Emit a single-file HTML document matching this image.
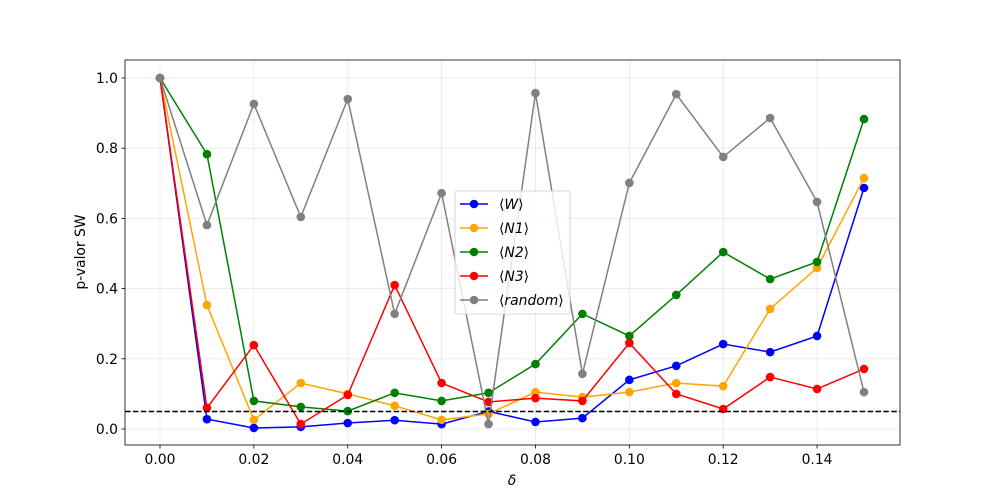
<!DOCTYPE html>
<html><head><meta charset="utf-8"><style>
html,body{margin:0;padding:0;background:#fff;overflow:hidden;}
svg{display:block;}
svg text{font-family:"DejaVu Sans","Liberation Sans",sans-serif;fill:#000;}
</style></head><body>
<svg id="chart" width="1000" height="500" xmlns="http://www.w3.org/2000/svg">
<rect x="0" y="0" width="1000" height="500" fill="#fff"/>
<g id="grid"></g><g id="series"></g><g id="axes"></g><g id="legend"></g>
</svg>
<script>
const deltas=[0,0.01,0.02,0.03,0.04,0.05,0.06,0.07,0.08,0.09,0.10,0.11,0.12,0.13,0.14,0.15];
const seriesW=[1.0,0.028,0.003,0.006,0.017,0.025,0.014,0.05,0.02,0.031,0.14,0.18,0.242,0.219,0.265,0.687];
const seriesN1=[1.0,0.353,0.026,0.131,0.1,0.066,0.026,0.043,0.105,0.091,0.105,0.131,0.122,0.342,0.459,0.715];
const seriesN2=[1.0,0.783,0.08,0.063,0.051,0.103,0.08,0.103,0.185,0.328,0.265,0.382,0.504,0.427,0.476,0.883];
const seriesN3=[1.0,0.06,0.239,0.014,0.097,0.41,0.131,0.077,0.088,0.08,0.245,0.1,0.057,0.148,0.114,0.171];
const seriesRandom=[1.0,0.581,0.926,0.604,0.94,0.328,0.672,0.014,0.957,0.157,0.701,0.954,0.775,0.886,0.647,0.105];
const xTicks=[0,0.02,0.04,0.06,0.08,0.10,0.12,0.14];
const xTickLabels=["0.00","0.02","0.04","0.06","0.08","0.10","0.12","0.14"];
const yTicks=[0,0.2,0.4,0.6,0.8,1.0];
const yTickLabels=["0.0","0.2","0.4","0.6","0.8","1.0"];
const threshold=0.05;
const seriesLabels=["W","N1","N2","N3","random"];
const seriesColors=["#0000ff","#ffa500","#008000","#ff0000","#808080"];
const allSeries=[seriesW,seriesN1,seriesN2,seriesN3,seriesRandom];

const L=125,R=900,T=60,B=445,FS=13.9;
const sx=v=>160+(v-0)/0.15*(864-160);
const sy=v=>429-v*351;
const NS="http://www.w3.org/2000/svg";
function mk(tag,parent,attrs){const e=document.createElementNS(NS,tag);for(const k in attrs)e.setAttribute(k,attrs[k]);parent.appendChild(e);return e;}
const grid=document.getElementById('grid'),ser=document.getElementById('series'),ax=document.getElementById('axes'),leg=document.getElementById('legend');
xTicks.forEach((t,i)=>{const x=sx(t);
 let g=mk('line',grid,{x1:x,x2:x,y1:T,y2:B,stroke:'#b0b0b0','stroke-width':0.8,'stroke-opacity':0.3});
 
 let tk=mk('line',ax,{x1:x,x2:x,y1:B,y2:B+3.5,stroke:'#000','stroke-width':0.8});
 
 let tx=mk('text',ax,{x:x,y:B+19,'text-anchor':'middle','font-size':FS});tx.textContent=xTickLabels[i];
 });
yTicks.forEach((t,i)=>{const y=sy(t);
 let g=mk('line',grid,{x1:L,x2:R,y1:y,y2:y,stroke:'#b0b0b0','stroke-width':0.8,'stroke-opacity':0.3});
 
 let tk=mk('line',ax,{x1:L-3.5,x2:L,y1:y,y2:y,stroke:'#000','stroke-width':0.8});
 
 let tx=mk('text',ax,{x:L-7,y:y+5,'text-anchor':'end','font-size':FS});tx.textContent=yTickLabels[i];
 });
allSeries.forEach((s,k)=>{
 const g=mk('g',ser,{});
 
 const pl=mk('polyline',g,{points:s.map((v,i)=>sx(deltas[i])+','+sy(v)).join(' '),fill:'none',stroke:seriesColors[k],'stroke-width':1.5});
 
 s.forEach((v,i)=>{const c=mk('circle',g,{cx:sx(deltas[i]),cy:sy(v),r:4.3,fill:seriesColors[k]});
  });
});
const th=mk('line',ser,{x1:L,x2:R,y1:sy(threshold),y2:sy(threshold),stroke:'#000','stroke-width':1.5,'stroke-dasharray':'5.5,2.4'});

const frame=mk('rect',ax,{x:L,y:T,width:R-L,height:B-T,fill:'none',stroke:'#000','stroke-width':0.8});

const xl=mk('text',ax,{x:512,y:485,'text-anchor':'middle','font-size':FS,'font-style':'italic'});xl.textContent='δ';

const yl=mk('text',ax,{x:85,y:252,'text-anchor':'middle','font-size':FS,transform:'rotate(-90 85 252)'});yl.textContent='p-valor SW';

const lb=mk('rect',leg,{x:455,y:191,width:115,height:123,rx:2,fill:'#fff','fill-opacity':0.8,stroke:'#ccc','stroke-width':0.8});

seriesLabels.forEach((n,k)=>{const y=204+k*24;
 const g=mk('g',leg,{});
 mk('line',g,{x1:460,x2:488,y1:y,y2:y,stroke:seriesColors[k],'stroke-width':1.5});
 mk('circle',g,{cx:474,cy:y,r:4.3,fill:seriesColors[k]});
 const t=mk('text',g,{x:499,y:y+5,'font-size':FS});
 t.innerHTML='⟨<tspan font-style="italic">'+n+'</tspan>⟩';});
</script>
</body></html>
